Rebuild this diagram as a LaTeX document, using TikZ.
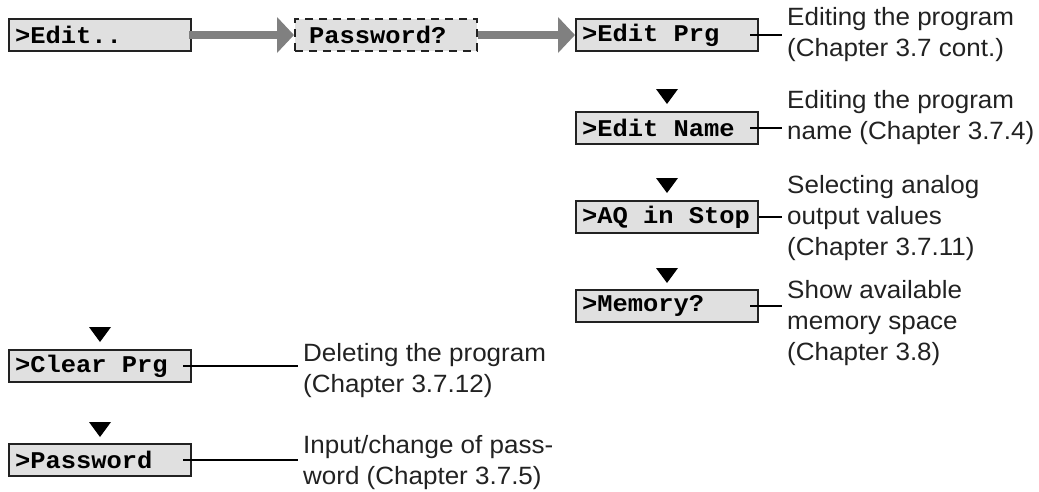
\documentclass[tikz,border=0pt]{standalone}
\usepackage{fontspec}
\setmainfont{Liberation Sans}[FakeStretch=1.04]
\newfontfamily\lcdfont{Liberation Mono}[FakeStretch=1.06]
\usetikzlibrary{arrows.meta}

\definecolor{lcdgray}{HTML}{E0E0E0}
\definecolor{arrowgray}{HTML}{808080}
\definecolor{inkgray}{HTML}{222222}

% one full character cell of the display font
\newcommand\lcdsp{\hspace{0.636em}}

\begin{document}
\begin{tikzpicture}[x=1pt,y=-1pt,
  menubox/.style={draw=inkgray,line width=2pt,fill=lcdgray,
    minimum height=32pt,text width=170pt,inner xsep=6pt,inner ysep=0pt,
    align=left,font=\lcdfont\bfseries\fontsize{24}{28}\selectfont},
  pwbox/.style={menubox,dash pattern=on 8pt off 6pt},
  note/.style={anchor=west,align=left,inner xsep=5pt,inner ysep=0pt,
    text=inkgray,font=\fontsize{25}{31}\selectfont},
  bigarrow/.style={draw=arrowgray,line width=8pt,
    -{Triangle[length=17pt,width=35pt]}},
  tick/.style={draw=black,line width=2pt},
  marker/.style={fill=black}]

\useasboundingbox (0,0) rectangle (1039,491);

% Menu boxes
\node[menubox] (edit)     at (100,35)  {>Edit..};
\node[pwbox]   (pwquery)  at (386,35)  {~Password?};
\node[menubox] (editprg)  at (667,35)  {>Edit\lcdsp Prg};
\node[menubox] (editname) at (667,128) {>Edit\lcdsp Name};
\node[menubox] (aqstop)   at (667,217) {>AQ\lcdsp in\lcdsp Stop};
\node[menubox] (memory)   at (667,306) {>Memory?};
\node[menubox] (clearprg) at (100,366) {>Clear\lcdsp Prg};
\node[menubox] (password) at (100,460) {>Password};

% Explanations
\node[note] (tprg)  at (782,35)  {Editing the program\\(Chapter 3.7 cont.)};
\node[note] (tname) at (782,118) {Editing the program\\name (Chapter 3.7.4)};
\node[note] (taq)   at (782,218) {Selecting analog\\output values\\(Chapter 3.7.11)};
\node[note] (tmem)  at (782,323) {Show available\\memory space\\(Chapter 3.8)};
\node[note] (tclr)  at (298,371) {Deleting the program\\(Chapter 3.7.12)};
\node[note] (tpwd)  at (298,463) {Input/change of pass-\\word (Chapter 3.7.5)};

% Big arrows
\draw[bigarrow] ([xshift=-3pt]edit.east) -- (pwquery.west);
\draw[bigarrow] (pwquery.east) -- (editprg.west);

% Lines to the explanations
\draw[tick] ([xshift=-9pt]editprg.east)  -- (editprg.east -| tprg.west);
\draw[tick] ([xshift=-9pt]editname.east) -- (editname.east -| tname.west);
\draw[tick] (aqstop.east)                -- (aqstop.east -| taq.west);
\draw[tick] ([xshift=-9pt]memory.east)   -- (memory.east -| tmem.west);
\draw[tick] ([xshift=-9pt]clearprg.east) -- (clearprg.east -| tclr.west);
\draw[tick] ([xshift=-9pt]password.east) -- (password.east -| tpwd.west);

% Down marks
\fill[marker] ([yshift=7pt]editname.north) -- ++(-11,-15) -- ++(22,0) -- cycle;
\fill[marker] ([yshift=7pt]aqstop.north)   -- ++(-11,-15) -- ++(22,0) -- cycle;
\fill[marker] ([yshift=6pt]memory.north)   -- ++(-11,-15) -- ++(22,0) -- cycle;
\fill[marker] ([yshift=7pt]clearprg.north) -- ++(-11,-15) -- ++(22,0) -- cycle;
\fill[marker] ([yshift=6pt]password.north) -- ++(-11,-15) -- ++(22,0) -- cycle;

\end{tikzpicture}
\end{document}
